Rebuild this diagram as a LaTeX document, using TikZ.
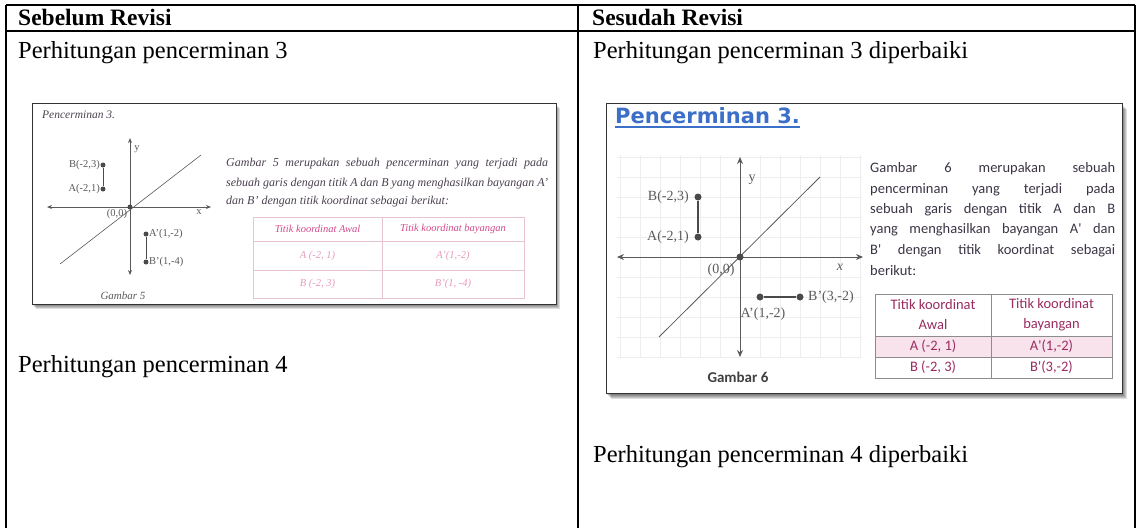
\documentclass[tikz,border=0pt]{standalone}
\usepackage{fontspec}
\setmainfont{Liberation Serif}
\newfontfamily\calfont{Carlito}
\newfontfamily\decofont{DejaVu Sans}
\usetikzlibrary{arrows.meta}
\definecolor{ptgray}{HTML}{4A4A4A}
\definecolor{axgray}{HTML}{5A5A5A}
\definecolor{partxt}{HTML}{4B4150}
\definecolor{rpartxt}{HTML}{3D3546}
\definecolor{pinkhead}{HTML}{D24B8C}
\definecolor{pinklight}{HTML}{E59BBE}
\definecolor{pinkline}{HTML}{E8C3D2}
\definecolor{magtxt}{HTML}{9A2C62}
\definecolor{rowpink}{HTML}{F8E3EC}
\definecolor{gridgray}{HTML}{EEEEEE}
\definecolor{titleblue}{HTML}{3C6FC8}
\tikzset{
  txt/.style={inner sep=0pt, anchor=base west, font=\fontsize{24.5}{24.5}\selectfont},
  hdr/.style={inner sep=0pt, anchor=base west, font=\fontsize{23.5}{23.5}\selectfont\bfseries},
  tline/.style={line width=1.3pt, black},
  frame/.style={draw=black!80, line width=0.9pt, fill=white},
  shadowbox/.style={fill=black, opacity=0.13},
  axis/.style={draw=axgray, line width=0.8pt, arrows={Stealth[length=5pt,width=4pt]-Stealth[length=5pt,width=4pt]}},
  diag/.style={draw=axgray, line width=0.6pt},
  seg/.style={draw=ptgray, line width=0.9pt},
  dotS/.style={circle, fill=ptgray, inner sep=0pt, minimum size=5pt},
  dotL/.style={circle, fill=ptgray, inner sep=0pt, minimum size=7pt},
  lblS/.style={inner sep=0pt, text=axgray, font=\fontsize{10.5}{11}\selectfont},
  lblL/.style={inner sep=0pt, text=axgray, font=\fontsize{14}{14}\selectfont},
  lpar/.style={inner sep=0pt, anchor=base west, text=partxt, font=\fontsize{12}{12}\selectfont\itshape},
  rpar/.style={inner sep=0pt, anchor=base west, text=rpartxt, font=\calfont\fontsize{14.5}{14.5}\selectfont},
  ltab/.style={inner sep=0pt, font=\fontsize{10.5}{11}\selectfont\itshape},
  rtab/.style={inner sep=0pt, align=center, text=magtxt, font=\calfont\fontsize{14.5}{20}\selectfont},
  pinkrule/.style={draw=pinkline, line width=0.7pt},
  grayrule/.style={draw=black!45, line width=0.7pt},
}
\begin{document}
\begin{tikzpicture}[x=1pt,y=-1pt]
\useasboundingbox (0,0) rectangle (1141,528);
\fill[white] (0,0) rectangle (1141,528);

% ---------- main table ----------
\draw[tline] (6,5) -- (1135,5);
\draw[tline] (6,31) -- (1135,31);
\draw[tline] (6,5) -- (6,528);
\draw[tline] (578,5) -- (578,528);
\draw[tline] (1135,5) -- (1135,528);

\node[hdr] (hL) at (18,25) {Sebelum Revisi};
\node[hdr] (hR) at (592,25) {Sesudah Revisi};
\node[txt] (l3) at (18,58) {Perhitungan pencerminan 3};
\node[txt] (r3) at (593,58) {Perhitungan pencerminan 3 diperbaiki};
\node[txt] (l4) at (18,372) {Perhitungan pencerminan 4};
\node[txt] (r4) at (593,462) {Perhitungan pencerminan 4 diperbaiki};

% ---------- left screenshot ----------
\foreach \i in {1,...,4} {\fill[shadowbox] (32+\i,103+\i+1) rectangle (556+\i,304+\i+1);}
\draw[frame] (32,103) rectangle (556,304);
\node[inner sep=0pt, anchor=base west, text=partxt, font=\fontsize{11.5}{11.5}\selectfont\itshape] (t5) at (42,118) {Pencerminan 3.};

% graph 5
\coordinate (x5l) at (47,207);  \coordinate (x5r) at (211,207);
\coordinate (y5t) at (130,138); \coordinate (y5b) at (130,275);
\coordinate (d5a) at (60,264);  \coordinate (d5b) at (201,155);
\draw[axis] (x5l) -- (x5r);
\draw[axis] (y5b) -- (y5t);
\draw[diag] (d5a) -- (d5b);
\node[dotS] (O5) at (130,207) {};
\node[dotS] (B5) at (103,165) {};
\node[dotS] (A5) at (103,189) {};
\node[dotS] (A5p) at (146,234) {};
\node[dotS] (B5p) at (146,262) {};
\draw[seg] (B5) -- (A5);
\draw[seg] (A5p) -- (B5p);
\node[lblS, anchor=east] (lB5) at (100,165) {B(-2,3)};
\node[lblS, anchor=east] (lA5) at (100,189) {A(-2,1)};
\node[lblS] (lO5) at (117,214) {(0,0)};
\node[lblS] (lx5) at (199,212) {x};
\node[lblS] (ly5) at (137,149) {y};
\node[lblS, anchor=west] (lA5p) at (149,234) {A'(1,-2)};
\node[lblS, anchor=west] (lB5p) at (149,262) {B'(1,-4)};
\node[lblS, font=\fontsize{11}{11}\selectfont\itshape] (g5) at (123,296) {Gambar 5};

% paragraph 5
\node[lpar] (p51) at (226,166) {\makebox[322pt][s]{Gambar 5 merupakan sebuah pencerminan yang terjadi pada}};
\node[lpar] (p52) at (226,186) {\makebox[322pt][s]{sebuah garis dengan titik A dan B yang menghasilkan bayangan A'}};
\node[lpar] (p53) at (226,204) {dan B' dengan titik koordinat sebagai berikut:};

% table 5
\draw[pinkrule] (253,217) rectangle (524,298);
\draw[pinkrule] (253,241) -- (524,241);
\draw[pinkrule] (253,270) -- (524,270);
\draw[pinkrule] (382,217) -- (382,298);
\node[ltab, text=pinkhead] (c511) at (317.5,229) {Titik koordinat Awal};
\node[ltab, text=pinkhead] (c512) at (453,229) {Titik koordinat bayangan};
\node[ltab, text=pinklight] (c521) at (317.5,256) {A (-2, 1)};
\node[ltab, text=pinklight] (c522) at (453,256) {A'(1,-2)};
\node[ltab, text=pinklight] (c531) at (317.5,284) {B (-2, 3)};
\node[ltab, text=pinklight] (c532) at (453,284) {B'(1, -4)};

% ---------- right screenshot ----------
\foreach \i in {1,...,5} {\fill[shadowbox] (606+\i,103+\i+1) rectangle (1122+\i,393+\i+1);}
\draw[frame] (606,103) rectangle (1122,393);
\node[inner sep=0pt, anchor=base west, text=titleblue, font=\decofont\fontsize{21}{21}\selectfont\bfseries] (t6) at (615,123) {Pencerminan 3.};
\draw[titleblue, line width=1.8pt] (t6.base west) ++(0,4) coordinate (u6a) -- (t6.base east |- u6a);

% grid
\foreach \gx in {620,640,...,860} {\draw[gridgray, line width=0.5pt] (\gx,155) -- (\gx,358);}
\foreach \gy in {157,177,...,357} {\draw[gridgray, line width=0.5pt] (617,\gy) -- (862,\gy);}

\coordinate (x6l) at (617,257); \coordinate (x6r) at (863,257);
\coordinate (y6t) at (740,157); \coordinate (y6b) at (740,357);
\coordinate (d6a) at (659,337); \coordinate (d6b) at (820,177);
\draw[axis, line width=1pt, arrows={Stealth[length=7pt,width=6pt]-Stealth[length=7pt,width=6pt]}] (x6l) -- (x6r);
\draw[axis, line width=1pt, arrows={Stealth[length=7pt,width=6pt]-Stealth[length=7pt,width=6pt]}] (y6b) -- (y6t);
\draw[diag, line width=0.8pt] (d6a) -- (d6b);
\node[dotL] (O6) at (740,257) {};
\node[dotL] (B6) at (698,197) {};
\node[dotL] (A6) at (698,237) {};
\node[dotL] (A6p) at (760,297) {};
\node[dotL] (B6p) at (800,297) {};
\draw[seg, line width=1.1pt] (B6) -- (A6);
\draw[seg, line width=1.1pt] (A6p) -- (B6p);
\node[lblL, anchor=east] (lB6) at (689,197) {B(-2,3)};
\node[lblL, anchor=east] (lA6) at (689,237) {A(-2,1)};
\node[lblL] (lO6) at (721,270) {(0,0)};
\node[lblL, font=\fontsize{14}{14}\selectfont\itshape] (lx6) at (840,267) {x};
\node[lblL] (ly6) at (752,180) {y};
\node[lblL] (lA6p) at (763,314) {A'(1,-2)};
\node[lblL, anchor=west] (lB6p) at (808,297) {B'(3,-2)};
\node[inner sep=0pt, text=black!75, font=\calfont\fontsize{15}{15}\selectfont\bfseries] (g6) at (738,377) {Gambar 6};

% paragraph 6
\node[rpar] (p61) at (870,172) {\makebox[245pt][s]{Gambar 6 merupakan sebuah}};
\node[rpar] (p62) at (870,193) {\makebox[245pt][s]{pencerminan yang terjadi pada}};
\node[rpar] (p63) at (870,213) {\makebox[245pt][s]{sebuah garis dengan titik A dan B}};
\node[rpar] (p64) at (870,233) {\makebox[245pt][s]{yang menghasilkan bayangan A' dan}};
\node[rpar] (p65) at (870,254) {\makebox[245pt][s]{B' dengan titik koordinat sebagai}};
\node[rpar] (p66) at (870,275) {berikut:};

% table 6
\fill[rowpink] (875,336) rectangle (1112,357);
\draw[grayrule] (875,294) rectangle (1112,378);
\draw[grayrule] (875,336) -- (1112,336);
\draw[grayrule] (875,357) -- (1112,357);
\draw[grayrule] (991,294) -- (991,378);
\node[rtab] (c611) at (933,315) {Titik koordinat\\Awal};
\node[rtab] (c612) at (1051.5,315) {Titik koordinat\\bayangan};
\node[rtab] (c621) at (933,346.5) {A (-2, 1)};
\node[rtab] (c622) at (1051.5,346.5) {A'(1,-2)};
\node[rtab] (c631) at (933,367.5) {B (-2, 3)};
\node[rtab] (c632) at (1051.5,367.5) {B'(3,-2)};
\end{tikzpicture}
\end{document}
